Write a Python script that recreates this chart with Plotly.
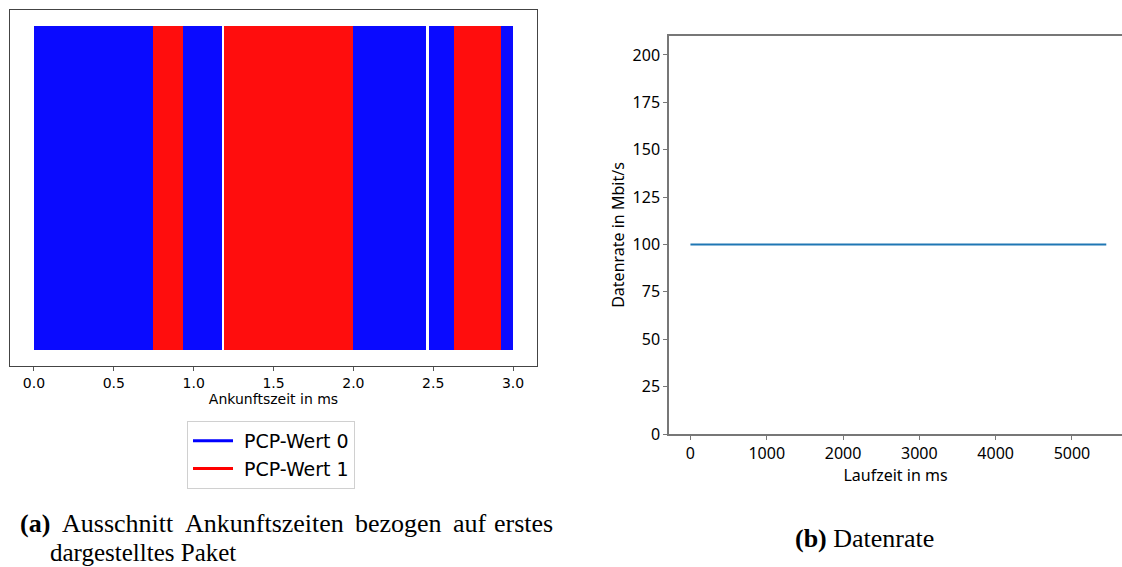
import plotly.graph_objects as go

W, H = 1122, 567

# Arrival-time segments (ms) with the PCP value of the packets in each run
seg_start = [0.000, 0.379, 0.748, 0.931, 1.187, 1.817, 2.000, 2.182, 2.282, 2.475, 2.631, 2.927]
seg_end   = [0.377, 0.748, 0.931, 1.175, 1.815, 2.000, 2.180, 2.280, 2.456, 2.631, 2.927, 3.000]
seg_pcp   = [0, 0, 1, 0, 1, 1, 0, 0, 0, 0, 1, 0]

pcp_names = ["PCP-Wert 0", "PCP-Wert 1"]
pcp_fill = ["#0a0aff", "#ff0d0d"]
pcp_line = ["#0000ff", "#ff0000"]

x_ticks_a = [0.0, 0.5, 1.0, 1.5, 2.0, 2.5, 3.0]

# Data rate over run time
laufzeit = [0, 5450]
datenrate = [100, 100]
y_ticks_b = [0, 25, 50, 75, 100, 125, 150, 175, 200]
x_ticks_b = [0, 1000, 2000, 3000, 4000, 5000]


def px_x(p):
    return p / W


def px_y(p):
    return 1 - p / H


fig = go.Figure()

# event segments as bars spanning 0.5 .. 1.5 on the y axis
for v in (0, 1):
    xs, ws = [], []
    for s, e, p in zip(seg_start, seg_end, seg_pcp):
        if p == v:
            xs.append((s + e) / 2)
            ws.append(e - s)
    fig.add_trace(go.Bar(
        x=xs, y=[1.0] * len(xs), base=0.5, width=ws,
        marker=dict(color=pcp_fill[v], line=dict(width=0)),
        showlegend=False, xaxis="x", yaxis="y", hoverinfo="skip",
    ))

# legend entries drawn as lines
for v in (0, 1):
    fig.add_trace(go.Scatter(
        x=[None], y=[None], mode="lines", name="&nbsp;" + pcp_names[v],
        line=dict(color=pcp_line[v], width=3),
        xaxis="x", yaxis="y",
    ))

fig.add_trace(go.Scatter(
    x=laufzeit, y=datenrate, mode="lines",
    line=dict(color="#1f77b4", width=2), showlegend=False,
    xaxis="x2", yaxis="y2",
))

font_a = dict(family="DejaVu Sans", size=14, color="#000000")
font_b = dict(family="Noto Sans", size=16, color="#000000")

fig.update_layout(
    width=W, height=H,
    margin=dict(l=0, r=0, t=0, b=0, autoexpand=False),
    paper_bgcolor="white", plot_bgcolor="white",
    bargap=0,
    xaxis=dict(
        domain=[px_x(10), px_x(537)], range=[-0.15, 3.15], automargin=False,
        tickmode="array", tickvals=x_ticks_a, ticktext=[f"{t:.1f}" for t in x_ticks_a],
        ticks="outside", ticklen=4, tickcolor="#555555", tickwidth=1,
        showline=True, linecolor="#444444", linewidth=1.3, mirror=True,
        showgrid=False, zeroline=False, tickfont=font_a,
        title=dict(text="Ankunftszeit in ms", font=font_a, standoff=2),
        anchor="y",
    ),
    yaxis=dict(
        domain=[px_y(366), px_y(10)], range=[0.45, 1.55], automargin=False,
        showticklabels=False, ticks="", showgrid=False, zeroline=False,
        showline=True, linecolor="#444444", linewidth=1.3, mirror=True,
        anchor="x",
    ),
    xaxis2=dict(
        domain=[px_x(669), 1.0], range=[-281, 5656], automargin=False,
        tickmode="array", tickvals=x_ticks_b, ticktext=[str(t) for t in x_ticks_b],
        ticks="outside", ticklen=4, tickcolor="#777777",
        showline=True, linecolor="#777777", linewidth=1.5, mirror=True,
        showgrid=False, zeroline=False, tickfont=font_b,
        title=dict(text="Laufzeit in ms", font=font_b, standoff=6),
        anchor="y2",
    ),
    yaxis2=dict(
        domain=[px_y(434), px_y(36)], range=[0, 210], automargin=False,
        tickmode="array", tickvals=y_ticks_b, ticktext=[str(t) for t in y_ticks_b],
        ticks="outside", ticklen=4, tickcolor="#777777",
        showline=True, linecolor="#777777", linewidth=1.5, mirror=False,
        showgrid=False, zeroline=False, tickfont=font_b,
        title=dict(text="Datenrate in Mbit/s", font=font_b, standoff=4),
        anchor="x2",
    ),
    legend=dict(
        x=px_x(187), y=px_y(421), xanchor="left", yanchor="top",
        bordercolor="#d0d0d0", borderwidth=1, bgcolor="white",
        font=dict(family="DejaVu Sans", size=19, color="#000000"),
        itemwidth=40, tracegroupgap=0,
    ),
)

# caption (a), justified across its first line
serif = dict(family="Liberation Serif", size=26, color="#000000")
cap_a_words = ["<b>(a)</b>", "Ausschnitt", "Ankunftszeiten", "bezogen", "auf"]
cap_a_left = [18, 60, 183, 353, 451]
for word, left in zip(cap_a_words, cap_a_left):
    fig.add_annotation(text=word, x=px_x(left), y=px_y(523), xref="paper", yref="paper",
                       xanchor="left", yanchor="middle", showarrow=False, font=serif)
fig.add_annotation(text="erstes", x=px_x(555), y=px_y(523), xref="paper", yref="paper",
                   xanchor="right", yanchor="middle", showarrow=False, font=serif)
fig.add_annotation(text="dargestelltes Paket",
                   x=px_x(48), y=px_y(552), xref="paper", yref="paper",
                   xanchor="left", yanchor="middle", showarrow=False,
                   font=dict(family="Liberation Serif", size=25, color="#000000"))
fig.add_annotation(text="<b>(b)</b> Datenrate",
                   x=px_x(864), y=px_y(538), xref="paper", yref="paper",
                   xanchor="center", yanchor="middle", showarrow=False, font=serif)

fig.write_html("out.html")
